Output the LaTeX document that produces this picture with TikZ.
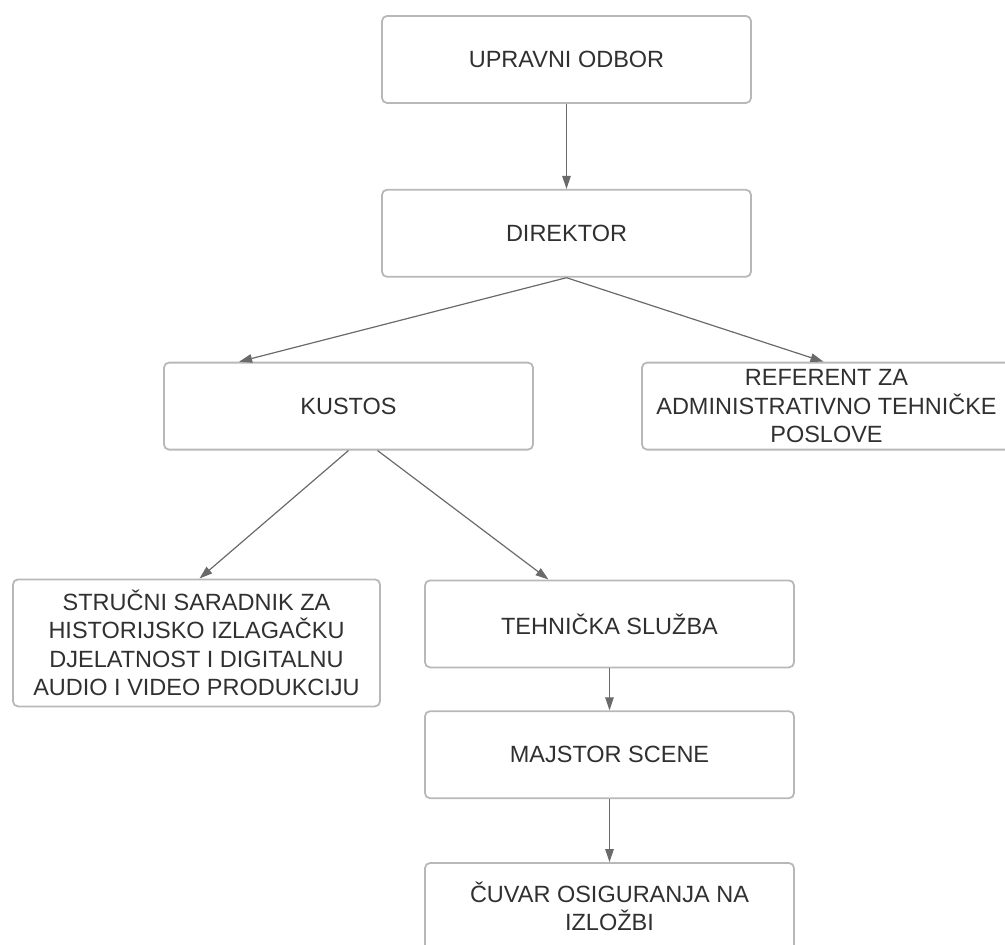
\documentclass[tikz,border=0pt]{standalone}
\usepackage{fontspec}
\setmainfont{Liberation Sans}
\usepackage{xcolor}
\usepackage{tikz}
\usetikzlibrary{positioning, arrows.meta}

\definecolor{boxline}{HTML}{B8B8B8}
\definecolor{arrowline}{HTML}{6A6A6A}
\definecolor{boxtext}{HTML}{303030}

\begin{document}
\begin{tikzpicture}[
    x=1pt, y=-1pt,
    box/.style={draw=boxline, line width=1.8pt, rounded corners=5pt, minimum width=369pt, minimum height=87pt,
        inner sep=4pt, align=center, text=boxtext, font=\fontsize{23.5}{28.5}\selectfont},
    arrow/.style={-{Triangle[length=13pt, width=8.5pt]}, draw=arrowline, line width=1.2pt},
]
\useasboundingbox (0,0) rectangle (1005,945);

% Nodes
\node[box] (upravni) at (566.5,59.5) {UPRAVNI ODBOR};
\node[box, below=85pt of upravni] (direktor) {DIREKTOR};

\node[box, below=84pt of direktor, xshift=-218pt] (kustos) {KUSTOS};
\node[box, below=84pt of direktor, xshift=260pt] (referent) {REFERENT ZA\\ADMINISTRATIVNO TEHNIČKE\\POSLOVE};

\node[box, below=128pt of kustos, xshift=-152pt, minimum width=367pt, minimum height=127pt] (strucni)
    {STRUČNI SARADNIK ZA\\HISTORIJSKO IZLAGAČKU\\DJELATNOST I DIGITALNU\\AUDIO I VIDEO PRODUKCIJU};
\node[box, below=129pt of kustos, xshift=261pt] (tehnicka) {TEHNIČKA SLUŽBA};

\node[box, below=42pt of tehnicka] (majstor) {MAJSTOR SCENE};
\node[box, below=63pt of majstor] (cuvar) {ČUVAR OSIGURANJA NA\\IZLOŽBI};

% Arrows
\draw[arrow] (upravni) -- (direktor);
\draw[arrow] (direktor.south) -- ([xshift=76pt]kustos.north west);
\draw[arrow] (direktor.south) -- ([xshift=-3pt]referent.north);
\draw[arrow] (kustos.south) -- ([xshift=3pt]strucni.north);
\draw[arrow] ([xshift=29pt]kustos.south) -- ([xshift=-61pt]tehnicka.north);
\draw[arrow] (tehnicka) -- (majstor);
\draw[arrow] (majstor) -- (cuvar);

\end{tikzpicture}
\end{document}
